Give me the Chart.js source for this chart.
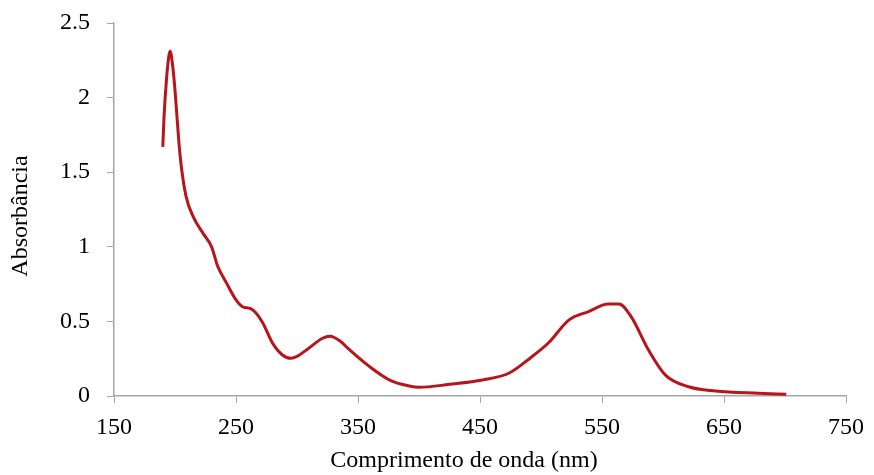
<!DOCTYPE html>
<html>
<head>
<meta charset="utf-8">
<script src="https://cdn.jsdelivr.net/npm/chart.js@4.4.1/dist/chart.umd.min.js"></script>
<style>
  html, body { margin: 0; padding: 0; background: #fff; }
  canvas { display: block; }
</style>
</head>
<body>
<canvas id="spectrum" width="874" height="475"></canvas>
<script>
// Espectro de absorcao UV-Vis
const comprimentos = [190, 191, 193, 195, 196, 198, 200, 203, 205, 209, 215, 223, 230, 235, 242,
  250, 255, 262, 266, 272, 280, 288, 295, 300, 308, 321, 327, 335, 343, 359,
  376, 392, 400, 425, 452, 474, 492, 506, 523, 539, 555, 564, 574, 588, 602,
  621, 643, 678, 701];
const absorbancias = [1.67, 1.87, 2.12, 2.28, 2.31, 2.22, 2.05, 1.72, 1.55, 1.34, 1.20, 1.09, 1.00, 0.87, 0.76,
  0.644, 0.60, 0.585, 0.56, 0.49, 0.353, 0.275, 0.253, 0.265, 0.31, 0.387, 0.40, 0.37, 0.31, 0.20,
  0.107, 0.067, 0.058, 0.078, 0.107, 0.154, 0.26, 0.355, 0.51, 0.566, 0.617, 0.617, 0.53, 0.31, 0.14,
  0.062, 0.034, 0.018, 0.011];

const tituloX = 'Comprimento de onda (nm)';
const tituloY = 'Absorbância';

const fonte = 'Liberation Serif, Times New Roman, serif';
const corEixo = '#a6a6a6';

const pontos = comprimentos.map((x, i) => ({ x: x, y: absorbancias[i] }));

// titulos dos eixos desenhados a mao (posicao igual ao original)
const titulosEixos = {
    id: 'titulosEixos',
    afterDraw(chart) {
        const ctx = chart.ctx;
        ctx.save();
        ctx.font = '24px ' + fonte;
        ctx.fillStyle = '#000';
        ctx.textAlign = 'center';
        ctx.textBaseline = 'middle';
        ctx.fillText(tituloX, 464, 461);
        ctx.translate(21, 216);
        ctx.rotate(-Math.PI / 2);
        ctx.fillText(tituloY, 0, 0);
        ctx.restore();
    }
};

new Chart(document.getElementById('spectrum').getContext('2d'), {
    type: 'scatter',
    data: {
        datasets: [{
            data: pontos,
            showLine: true,
            borderColor: '#b8141c',
            borderWidth: 3,
            pointRadius: 0,
            cubicInterpolationMode: 'monotone',
            fill: false
        }]
    },
    options: {
        responsive: false,
        animation: false,
        locale: 'en-US',
        layout: { padding: { top: 23, right: 26, left: 0, bottom: 0 } },
        plugins: {
            legend: { display: false },
            tooltip: { enabled: false }
        },
        scales: {
            x: {
                type: 'linear',
                min: 150,
                max: 750,
                afterFit: s => { s.height = 79; },
                ticks: {
                    stepSize: 100,
                    color: '#000',
                    padding: 10,
                    font: { family: fonte, size: 24 }
                },
                grid: {
                    drawOnChartArea: false,
                    drawTicks: true,
                    tickLength: 7,
                    color: corEixo
                },
                border: { display: true, color: corEixo, width: 1.5 }
            },
            y: {
                min: 0,
                max: 2.5,
                afterFit: s => {
                    s.width = 114;
                    s.paddingTop = 0;
                    s.paddingBottom = 0;
                },
                ticks: {
                    stepSize: 0.5,
                    color: '#000',
                    padding: 17,
                    font: { family: fonte, size: 24 },
                    callback: v => String(v)
                },
                grid: {
                    drawOnChartArea: false,
                    drawTicks: true,
                    tickLength: 7,
                    color: corEixo
                },
                border: { display: true, color: corEixo, width: 1.5 }
            }
        }
    },
    plugins: [titulosEixos]
});
</script>
</body>
</html>
